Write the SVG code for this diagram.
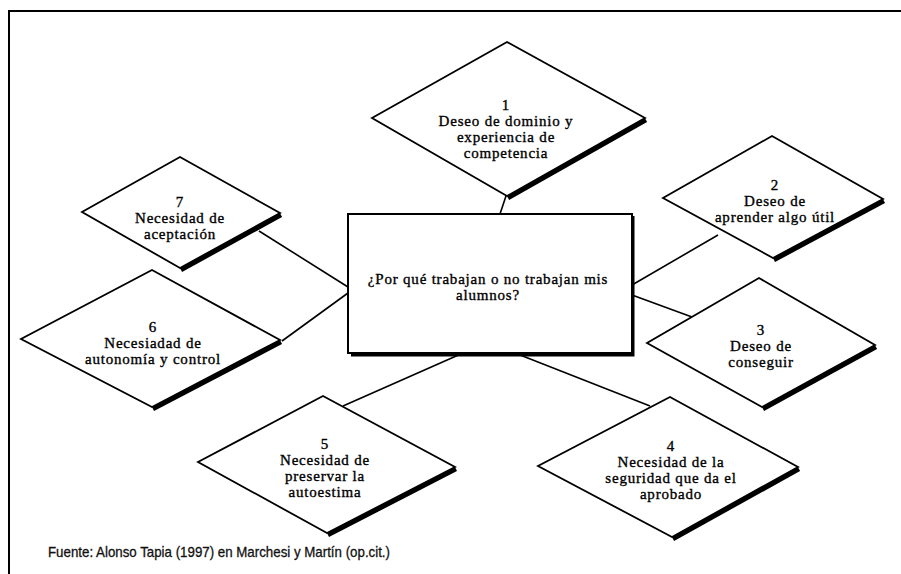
<svg xmlns="http://www.w3.org/2000/svg" width="901" height="574" viewBox="0 0 901 574">
<style>
.bg{fill:#fff}
.frame{fill:none;stroke:#000;stroke-width:2}
.dia{fill:#fff;stroke:#000;stroke-width:1.8;stroke-linejoin:miter}
.shadow{fill:none;stroke:#000;stroke-width:4.5;stroke-linecap:butt}
.box{fill:#fff;stroke:#000;stroke-width:2}
.conn line{stroke:#000;stroke-width:1.6}
.t{font-family:"Liberation Serif","Times New Roman",serif;font-size:15px;letter-spacing:0.8px;fill:#000;stroke:#000;stroke-width:0.35;text-anchor:middle}
.cap{font-family:"Liberation Sans",Arial,sans-serif;font-size:14.5px;fill:#111;stroke:#111;stroke-width:0.3}
</style>
<rect class="bg" x="0" y="0" width="901" height="574"/>
<path class="frame" d="M9,574 V11 H901"/>

<g id="connectors" class="conn">
<line x1="506" y1="196" x2="500" y2="214"/>
<line x1="632" y1="285" x2="718" y2="235"/>
<line x1="632" y1="295" x2="692" y2="317"/>
<line x1="515" y1="353" x2="650" y2="406"/>
<line x1="463" y1="353" x2="343" y2="406"/>
<line x1="348" y1="293" x2="282" y2="341"/>
<line x1="259" y1="231" x2="348" y2="287"/>
</g>

<g id="center">
<rect class="box" x="348" y="214" width="284" height="139"/>
<path class="shadow" d="M633,216 V355 H351" style="stroke-width:3"/>
<text class="t" x="488" y="284">¿Por qué trabajan o no trabajan mis</text>
<text class="t" x="488" y="300">alumnos?</text>
</g>

<g id="node1">
<polygon class="dia" points="507,42 645,118 507,196 372,118"/>
<polyline class="shadow" points="508,198 646,120"/>
<text class="t" x="506" y="110">1</text>
<text class="t" x="506" y="126">Deseo de dominio y</text>
<text class="t" x="506" y="142">experiencia de</text>
<text class="t" x="506" y="158">competencia</text>
</g>

<g id="node2">
<polygon class="dia" points="772,136 883,199 773,258 663,198"/>
<polyline class="shadow" points="774,260 884,201"/>
<text class="t" x="775" y="190">2</text>
<text class="t" x="775" y="206">Deseo de</text>
<text class="t" x="775" y="222">aprender algo útil</text>
</g>

<g id="node3">
<polygon class="dia" points="759,278 875,345 762,407 647,343"/>
<polyline class="shadow" points="763,409 876,347"/>
<text class="t" x="761" y="335">3</text>
<text class="t" x="761" y="351">Deseo de</text>
<text class="t" x="761" y="367">conseguir</text>
</g>

<g id="node4">
<polygon class="dia" points="670,397 798,467 672,537 538,466"/>
<polyline class="shadow" points="673,539 799,469"/>
<text class="t" x="671" y="451">4</text>
<text class="t" x="671" y="467">Necesidad de la</text>
<text class="t" x="671" y="483">seguridad que da el</text>
<text class="t" x="671" y="499">aprobado</text>
</g>

<g id="node5">
<polygon class="dia" points="323,396 455,467 327,533 198,462"/>
<polyline class="shadow" points="328,535 456,469"/>
<text class="t" x="325" y="449">5</text>
<text class="t" x="325" y="465">Necesidad de</text>
<text class="t" x="325" y="481">preservar la</text>
<text class="t" x="325" y="497">autoestima</text>
</g>

<g id="node6">
<polygon class="dia" points="152,270 280,340 152,407 21,339"/>
<polyline class="shadow" points="153,409 281,342"/>
<text class="t" x="153" y="332">6</text>
<text class="t" x="153" y="348">Necesiadad de</text>
<text class="t" x="153" y="364">autonomía y control</text>
</g>

<g id="node7">
<polygon class="dia" points="180,157 280,213 180,268 82,212"/>
<polyline class="shadow" points="181,270 281,215"/>
<text class="t" x="180" y="207">7</text>
<text class="t" x="180" y="223">Necesidad de</text>
<text class="t" x="180" y="239">aceptación</text>
</g>

<text class="cap" x="48" y="557" textLength="342" lengthAdjust="spacingAndGlyphs">Fuente: Alonso Tapia (1997) en Marchesi y Martín (op.cit.)</text>
</svg>
